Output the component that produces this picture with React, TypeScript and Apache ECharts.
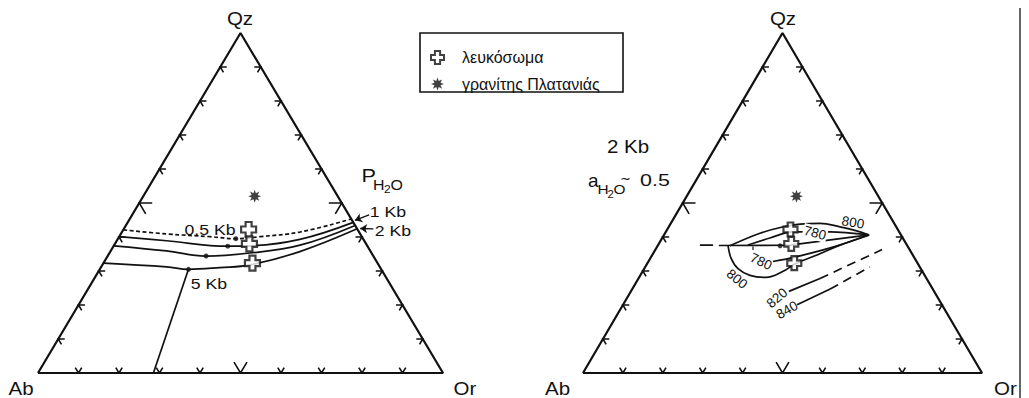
import React, { useEffect, useRef } from 'react';
import * as echarts from 'echarts';

// Ternary compositions as [Qz, Ab, Or] in percent
type T = [number, number, number];

const tickPositions = [10, 20, 30, 40, 50, 60, 70, 80, 90];
const vertexNames = ['Qz', 'Ab', 'Or'];

const legendNames = ['λευκόσωμα', 'γρανίτης Πλατανιάς'];
const leucosome: T[] = [
  [42.2, 26.9, 30.9],
  [38.0, 28.8, 33.2],
  [32.3, 30.9, 36.8],
];
const granite: T[] = [[52.0, 20.5, 27.5]];

// Left diagram: minimum-melt cotectics for various P(H2O)
const cotectic05Kb: T[] = [
  [42.1, 57.9, 0], [40.9, 47.8, 11.3], [40.1, 37.5, 22.4], [39.5, 31.4, 29.1],
  [40.1, 25.1, 34.8], [41.5, 14.6, 44.0], [45.3, 0, 54.7],
];
const cotectic1Kb: T[] = [
  [40.1, 59.9, 0], [38.9, 48.8, 12.3], [37.3, 34.5, 28.2], [37.4, 28.9, 33.7],
  [39.3, 15.7, 45.0], [44.3, 0, 55.7],
];
const cotectic2Kb: T[] = [
  [37.4, 62.6, 0], [35.9, 50.3, 13.8], [34.4, 41.3, 24.3], [35.3, 30.0, 34.7],
  [37.6, 16.5, 45.9], [43.4, 0, 56.6],
];
const cotectic5Kb: T[] = [
  [32.3, 67.7, 0], [31.2, 52.6, 16.2], [30.5, 47.6, 21.9], [31.0, 39.6, 29.4],
  [31.8, 31.7, 36.5], [35.7, 17.5, 46.8], [42.4, 0, 57.6],
];
const boundary5Kb: T[] = [[30.5, 47.6, 21.9], [0, 71.5, 28.5]];
const minima: T[] = [
  [39.5, 31.4, 29.1], [37.3, 34.5, 28.2], [34.4, 41.3, 24.3], [30.5, 47.6, 21.9],
];
const arrow1Kb: T[] = [[46.5, -5.0, 58.5], [44.9, -0.7, 55.8]];
const arrow2Kb: T[] = [[42.4, -4.0, 61.6], [42.5, -0.8, 58.3]];

// Right diagram: 2 Kb, aH2O ~ 0.5 isotherms
const cotecticR: T[] = [[37.5, 47.2, 15.3], [37.6, 29.3, 33.1], [40.6, 8.0, 51.4]];
const cotecticStubR: T[] = [[37.6, 51.9, 10.5], [37.6, 48.6, 13.8]];
const cotecticTickR: T[] = [[37.2, 38.8, 24.0], [36.2, 39.3, 24.5]];
const minimumR: T[] = [[37.4, 31.9, 30.7]];
const iso800Upper: T[] = [
  [37.4, 44.5, 18.1], [41.1, 35.1, 23.8], [43.0, 28.3, 28.7], [43.8, 23.7, 32.5],
  [44.0, 18.6, 37.4], [43.0, 14.1, 42.9], [41.8, 10.5, 47.7], [40.6, 8.0, 51.4],
];
const iso780Upper: T[] = [
  [37.6, 39.8, 22.5], [39.7, 33.3, 27.0], [41.5, 26.9, 31.6], [41.5, 17.3, 41.2], [40.6, 8.0, 51.4],
];
const iso800Lower: T[] = [
  [37.5, 44.9, 17.6], [33.8, 46.0, 20.2], [30.7, 45.8, 23.5], [28.7, 43.8, 27.5],
  [28.1, 40.1, 31.8], [29.9, 34.9, 35.2], [32.1, 30.8, 37.1], [34.7, 24.0, 41.3],
  [37.6, 16.8, 45.6], [40.6, 8.0, 51.4],
];
const iso780Lower: T[] = [[32.8, 36.0, 31.2], [34.1, 29.8, 36.1], [37.4, 17.6, 45.0], [40.6, 8.0, 51.4]];
const iso820Solid: T[] = [[24.0, 36.4, 39.6], [27.8, 26.7, 45.5]];
const iso820Dashed: T[] = [[27.8, 26.7, 45.5], [36.3, 6.9, 56.8]];
const iso840Solid: T[] = [[20.1, 36.3, 43.6], [24.7, 25.7, 49.6]];
const iso840Dashed: T[] = [[24.7, 25.7, 49.6], [31.2, 12.5, 56.3]];

const FONT = '"Liberation Sans", Arial, Helvetica, sans-serif';
const INK = '#111';
const STRETCH = 1.14; // the figure is wider than it is tall

const tern = (p: T): number[] => {
  const s = p[0] + p[1] + p[2];
  return [((p[2] + p[0] / 2) / s) * 100, (p[0] / s) * 100];
};

const crossPath =
  'path://M-4,-10 L4,-10 L4,-4 L10,-4 L10,4 L4,4 L4,10 L-4,10 L-4,4 L-10,4 L-10,-4 L-4,-4 Z';
const starPath = (() => {
  const pts: string[] = [];
  for (let i = 0; i < 16; i++) {
    const r = i % 2 === 0 ? 10 : 5;
    const a = (i * Math.PI) / 8 - Math.PI / 2;
    pts.push(`${(r * Math.cos(a)).toFixed(2)},${(r * Math.sin(a)).toFixed(2)}`);
  }
  return 'path://M' + pts.join(' L') + ' Z';
})();

function edgeTicks(): T[][] {
  const out: T[][] = [];
  for (const p of tickPositions) {
    const a = p === 50 ? 3.2 : 1.6;
    out.push([[a, 100 - p, p - a], [0, 100 - p, p], [a, 100 - p - a, p]]);
    out.push([[p, 100 - p - a, a], [p, 100 - p, 0], [p - a, 100 - p, a]]);
    out.push([[p, a, 100 - p - a], [p, 0, 100 - p], [p - a, a, 100 - p]]);
  }
  return out;
}

function lineSeries(pts: T[], g: number, opts: any = {}) {
  return {
    type: 'line',
    xAxisIndex: g,
    yAxisIndex: g,
    data: pts.map(tern),
    symbol: 'none',
    silent: true,
    smooth: opts.smooth ?? false,
    lineStyle: { color: INK, width: opts.width ?? 1.7, type: opts.dash ?? 'solid' },
    z: 3,
  };
}

function arrowSeries(pts: T[], g: number) {
  return {
    type: 'lines',
    coordinateSystem: 'cartesian2d',
    xAxisIndex: g,
    yAxisIndex: g,
    silent: true,
    symbol: ['none', 'arrow'],
    symbolSize: 7,
    lineStyle: { color: INK, width: 1.4, opacity: 1 },
    data: [{ coords: pts.map(tern) }],
    z: 4,
  };
}

function frameSeries(g: number) {
  const tri: T[] = [[0, 100, 0], [0, 0, 100], [100, 0, 0], [0, 100, 0]];
  return [
    lineSeries(tri, g, { width: 2.2 }),
    {
      type: 'lines',
      coordinateSystem: 'cartesian2d',
      polyline: true,
      xAxisIndex: g,
      yAxisIndex: g,
      silent: true,
      lineStyle: { color: INK, width: 1.6, opacity: 1 },
      data: edgeTicks().map((t) => ({ coords: t.map(tern) })),
      z: 3,
    },
  ];
}

function markerSeries(g: number, crossSize: number) {
  return [
    {
      name: legendNames[0],
      type: 'scatter',
      xAxisIndex: g,
      yAxisIndex: g,
      symbol: crossPath,
      symbolSize: crossSize,
      itemStyle: { color: '#fff', borderColor: INK, borderWidth: 2.2 },
      data: leucosome.map(tern),
      silent: true,
      z: 6,
    },
    {
      name: legendNames[1],
      type: 'scatter',
      xAxisIndex: g,
      yAxisIndex: g,
      symbol: starPath,
      symbolSize: 13,
      itemStyle: { color: INK },
      data: granite.map(tern),
      silent: true,
      z: 6,
    },
  ];
}

function dotSeries(pts: T[], g: number) {
  return {
    type: 'scatter',
    xAxisIndex: g,
    yAxisIndex: g,
    symbol: 'circle',
    symbolSize: 5,
    itemStyle: { color: INK },
    data: pts.map(tern),
    silent: true,
    z: 5,
  };
}

function txt(text: string, x: number, y: number, size: number, extra: any = {}) {
  const { rotation, align, bg, scaleX, ...rest } = extra;
  return {
    type: 'text',
    x,
    y,
    rotation: rotation ?? 0,
    scaleX: scaleX ?? STRETCH,
    z: 100,
    style: {
      text,
      fill: INK,
      fontSize: size,
      fontFamily: FONT,
      align: align ?? 'center',
      verticalAlign: 'middle',
      backgroundColor: bg,
      padding: bg ? [0, 1] : 0,
      ...rest,
    },
  };
}

function buildOption(): any {
  const axis = (g: number) => ({
    type: 'value',
    gridIndex: g,
    min: 0,
    max: 100,
    show: false,
  });
  const deg = (d: number) => (d * Math.PI) / 180;
  return {
    animation: false,
    backgroundColor: '#fff',
    grid: [
      { left: 38, top: 33, width: 405, height: 340 },
      { left: 583, top: 33, width: 399, height: 340 },
    ],
    xAxis: [axis(0), axis(1)],
    yAxis: [axis(0), axis(1)],
    legend: {
      orient: 'vertical',
      left: 430,
      top: 49.5,
      itemWidth: 13,
      itemHeight: 13,
      itemGap: 10.6,
      padding: 0,
      selectedMode: false,
      textStyle: { fontSize: 16, fontFamily: FONT, color: INK, padding: [0, 0, 0, 13] },
      data: [
        { name: legendNames[0], icon: crossPath },
        { name: legendNames[1], icon: starPath },
      ],
    },
    series: [
      ...frameSeries(0),
      lineSeries(cotectic05Kb, 0, { smooth: 0.4, dash: [4, 2.5] }),
      lineSeries(cotectic1Kb, 0, { smooth: 0.4 }),
      lineSeries(cotectic2Kb, 0, { smooth: 0.4 }),
      lineSeries(cotectic5Kb, 0, { smooth: 0.4 }),
      lineSeries(boundary5Kb, 0),
      dotSeries(minima, 0),
      arrowSeries(arrow1Kb, 0),
      arrowSeries(arrow2Kb, 0),
      ...markerSeries(0, 15),

      ...frameSeries(1),
      lineSeries(cotecticR, 1),
      lineSeries(cotecticStubR, 1),
      lineSeries(cotecticTickR, 1, { width: 1.2 }),
      lineSeries(iso800Upper, 1, { smooth: 0.4 }),
      lineSeries(iso780Upper, 1, { smooth: 0.3 }),
      lineSeries(iso800Lower, 1, { smooth: 0.4 }),
      lineSeries(iso780Lower, 1, { smooth: 0.3 }),
      lineSeries(iso820Solid, 1),
      lineSeries(iso820Dashed, 1, { dash: [9, 6] }),
      lineSeries(iso840Solid, 1),
      lineSeries(iso840Dashed, 1, { dash: [9, 6] }),
      dotSeries(minimumR, 1),
      ...markerSeries(1, 14),
    ],
    graphic: [
      {
        type: 'rect',
        z: 90,
        shape: { x: 420, y: 33, width: 203, height: 59 },
        style: { fill: 'none', stroke: INK, lineWidth: 1.6 },
      },
      {
        type: 'line',
        z: 90,
        shape: { x1: 1020, y1: 8, x2: 1020, y2: 398 },
        style: { stroke: '#333', lineWidth: 1.5 },
      },
      // vertex labels
      txt(vertexNames[0], 240, 19, 18),
      txt(vertexNames[1], 21, 389, 18),
      txt(vertexNames[2], 465, 389, 18),
      txt(vertexNames[0], 783, 19, 18),
      txt(vertexNames[1], 557.5, 389, 18),
      txt(vertexNames[2], 1005.5, 389, 18),
      // left annotations
      txt('0.5 Kb', 210, 229.5, 15.5),
      txt('5 Kb', 209, 283.5, 15.5),
      txt('1 Kb', 388, 212, 15.5),
      txt('2 Kb', 393, 230.5, 15.5),
      txt('P', 361.5, 175.5, 19, { align: 'left' }),
      txt('H', 373, 184.5, 14, { align: 'left' }),
      txt('2', 384, 189.5, 10.5, { align: 'left' }),
      txt('O', 390.5, 184.5, 14, { align: 'left' }),
      // right annotations
      txt('2 Kb', 628, 147, 18),
      txt('a', 588, 180, 19, { align: 'left', scaleX: 1 }),
      txt('H', 597.5, 189.5, 13.5, { align: 'left' }),
      txt('2', 607.5, 194, 10, { align: 'left' }),
      txt('O', 613.5, 189.5, 13.5, { align: 'left' }),
      txt('∼', 620, 178.5, 13, { align: 'left', scaleX: 1 }),
      txt('0.5', 640, 180.5, 16.5, { align: 'left', scaleX: 1.3 }),
      txt('800', 853, 222.5, 13.5, { rotation: deg(-10), scaleX: 1 }),
      txt('780', 815, 233, 13.5, { rotation: deg(-15), bg: '#fff', scaleX: 1 }),
      txt('780', 761, 261.5, 13.5, { rotation: deg(-25), scaleX: 1 }),
      txt('800', 737, 279, 13.5, { rotation: deg(-40), scaleX: 1 }),
      txt('820', 777, 298, 13.5, { rotation: deg(40), scaleX: 1 }),
      txt('840', 787, 310, 13.5, { rotation: deg(30), scaleX: 1 }),
    ],
  };
}

export default function App() {
  const ref = useRef<HTMLDivElement>(null);
  useEffect(() => {
    document.body.style.margin = '0';
    const chart = echarts.init(ref.current!, null, { renderer: 'svg' });
    chart.setOption(buildOption());
    return () => chart.dispose();
  }, []);
  return <div ref={ref} style={{ width: 1029, height: 398, background: '#fff' }} />;
}
